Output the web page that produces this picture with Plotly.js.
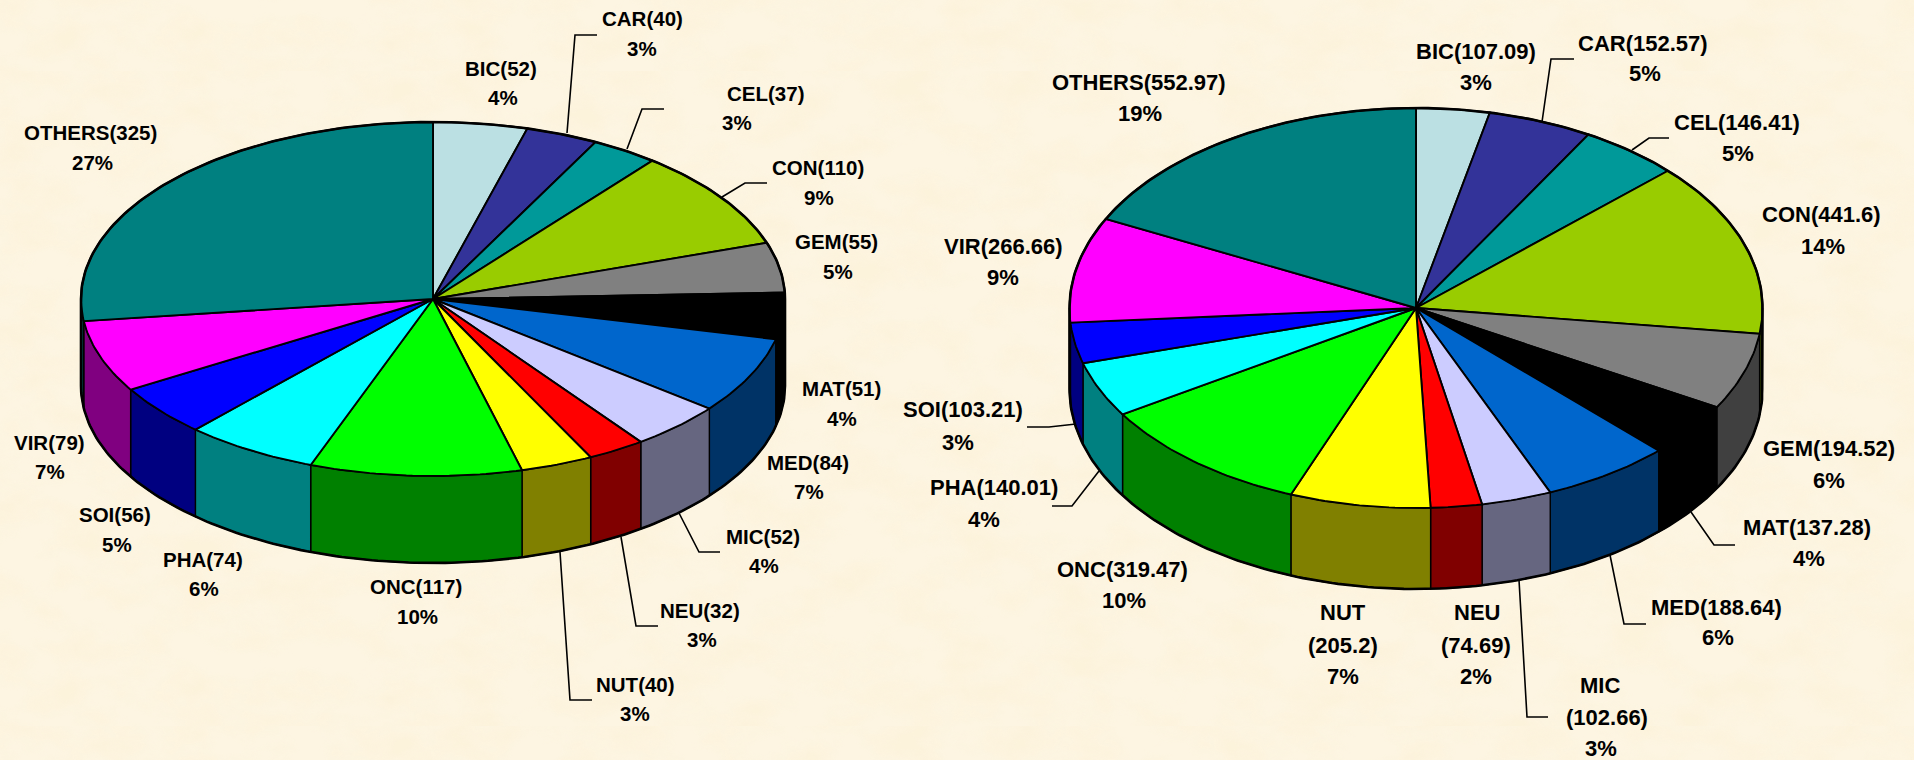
<!DOCTYPE html>
<html>
<head>
<meta charset="utf-8">
<title>Pie charts</title>
<script src="https://cdn.plot.ly/plotly-3.0.1.min.js"></script>
<style>html,body{margin:0;padding:0;overflow:hidden;background:#fcf3de}#plot{width:1914px;height:760px}</style>
</head>
<body>
<div id="plot"></div>
<script>
// ---- data ----
const categories = ['BIC','CAR','CEL','CON','GEM','MAT','MED','MIC','NEU','NUT','ONC','PHA','SOI','VIR','OTHERS'];
const valuesLeft  = [52,40,37,110,55,51,84,52,32,40,117,74,56,79,325];
const valuesRight = [107.09,152.57,146.41,441.6,194.52,137.28,188.64,102.66,74.69,205.2,319.47,140.01,103.21,266.66,552.97];
const percentLeft  = ['4%','3%','3%','9%','5%','4%','7%','4%','3%','3%','10%','6%','5%','7%','27%'];
const percentRight = ['3%','5%','5%','14%','6%','4%','6%','3%','2%','7%','10%','4%','3%','9%','19%'];
const topColors  = ['#BBE0E3','#333399','#009999','#99CC00','#808080','#000000','#0066CC','#CCCCFF','#FF0000','#FFFF00','#00FF00','#00FFFF','#0000FF','#FF00FF','#008080'];
const wallColors = ['#5E7072','#1A1A4D','#004D4D','#4D6600','#404040','#000000','#003366','#666680','#800000','#808000','#008000','#008080','#000080','#800080','#004040'];

// ---- layout of the two pies, in pixels of the page ----
const pieLeft  = {cx:433,  cy:299, rx:352,   ry:177, depth:87};
const pieRight = {cx:1416, cy:308, rx:346.5, ry:200, depth:81};

// label line centres [x, y] per line, category order
const labelPosLeft = [
 [[501,68],[503,97]],[[642,18],[642,48]],[[765,93],[737,122]],[[818,167],[819,197]],[[836,241],[838,271]],
 [[841,388],[842,418]],[[808,462],[809,491]],[[763,536],[764,565]],[[700,610],[702,639]],[[635,684],[635,713]],
 [[416,586],[417,616]],[[203,559],[204,588]],[[115,514],[117,544]],[[49,442],[50,471]],[[90,132],[92,162]]];
const labelPosRight = [
 [[1476,51],[1476,82]],[[1643,43],[1645,73]],[[1737,122],[1738,153]],[[1821,214],[1823,246]],[[1829,448],[1829,480]],
 [[1807,527],[1809,558]],[[1716,607],[1718,637]],[[1600,685],[1607,717],[1601,748]],[[1477,612],[1476,645],[1476,676]],[[1343,612],[1343,645],[1343,676]],
 [[1122,569],[1124,600]],[[994,487],[984,519]],[[963,409],[958,442]],[[1003,246],[1003,277]],[[1139,82],[1140,113]]];

// leader lines
const leaderLines = [
 [[567,133],[575,35],[597,35]],[[627,149],[642,109],[664,109]],[[722,197],[745,183],[767,183]],
 [[679,513],[699,552],[720,552]],[[621,537],[636,626],[658,626]],[[560,552],[570,700],[592,700]],
 [[1542,122],[1551,59],[1574,59]],[[1632,150],[1649,138],[1669,138]],[[1691,512],[1714,545],[1735,545]],
 [[1610,555],[1624,624],[1646,624]],[[1519,580],[1527,717],[1548,717]],[[1099,471],[1072,506],[1052,506]],
 [[1076,424],[1049,427],[1027,427]]];

// ---- geometry helpers: angle in degrees clockwise from 12 o'clock ----
const rad = d => d * Math.PI / 180;
function pt(p, a, drop) { return [p.cx + p.rx * Math.sin(rad(a)), p.cy - p.ry * Math.cos(rad(a)) + (drop || 0)]; }
function arc(p, a0, a1, drop) {
  const n = Math.max(2, Math.ceil(Math.abs(a1 - a0))), out = [];
  for (let i = 0; i <= n; i++) out.push(pt(p, a0 + (a1 - a0) * i / n, drop));
  return out;
}
const xs = pts => pts.map(q => q[0]);
const ys = pts => pts.map(q => q[1]);

function pieTraces(p, values) {
  const total = values.reduce((s, v) => s + v, 0), walls = [], tops = [];
  let a = 0;
  values.forEach((v, i) => {
    const b = a + v / total * 360;
    const name = categories[i] + ' (' + v + ')';
    const w0 = Math.max(a, 90), w1 = Math.min(b, 270);
    if (w1 > w0) {
      const poly = arc(p, w0, w1, 0).concat(arc(p, w1, w0, p.depth));
      poly.push(poly[0]);
      walls.push({type:'scatter', mode:'lines', x:xs(poly), y:ys(poly), fill:'toself', fillcolor:wallColors[i],
        line:{color:'#000', width:1.4}, name:name, hoverinfo:'name', showlegend:false});
    }
    const poly = [[p.cx, p.cy]].concat(arc(p, a, b, 0));
    poly.push([p.cx, p.cy]);
    tops.push({type:'scatter', mode:'lines', x:xs(poly), y:ys(poly), fill:'toself', fillcolor:topColors[i],
      line:{color:'#000', width:1.9}, name:name, hoverinfo:'name', showlegend:false});
    a = b;
  });
  const outline = arc(p, -90, 90, 0).concat(arc(p, 90, 270, p.depth));
  outline.push(outline[0]);
  const rim = {type:'scatter', mode:'lines', x:xs(outline), y:ys(outline), line:{color:'#000', width:2.6},
    hoverinfo:'skip', showlegend:false};
  return walls.concat(tops, [rim]);
}

function labelLines(values, pct, multi) {
  return categories.map((c, i) => multi.includes(c)
    ? [c, '(' + values[i] + ')', pct[i]]
    : [c + '(' + values[i] + ')', pct[i]]);
}
function annots(lines, pos, size) {
  const out = [];
  lines.forEach((ls, i) => ls.forEach((t, j) => out.push({
    text:t, x:pos[i][j][0], y:pos[i][j][1], xref:'x', yref:'y', showarrow:false,
    xanchor:'center', yanchor:'middle', borderpad:0,
    font:{family:'"Liberation Sans", Arial, sans-serif', size:size, color:'#000', weight:700}
  })));
  return out;
}

const leaderTraces = leaderLines.map(l => ({type:'scatter', mode:'lines', x:xs(l), y:ys(l),
  line:{color:'#000', width:1.6}, hoverinfo:'skip', showlegend:false}));

const data = pieTraces(pieLeft, valuesLeft).concat(pieTraces(pieRight, valuesRight), leaderTraces);
const annotations = annots(labelLines(valuesLeft, percentLeft, []), labelPosLeft, 20.5)
  .concat(annots(labelLines(valuesRight, percentRight, ['MIC','NEU','NUT']), labelPosRight, 22));

// mottled parchment background
const svg = '<svg xmlns="http://www.w3.org/2000/svg" width="1914" height="655">' +
 '<filter id="f" x="0" y="0" width="100%" height="100%"><feTurbulence type="fractalNoise" baseFrequency="0.018 0.028" numOctaves="4" seed="7"/>' +
 '<feColorMatrix values="0 0 0 0 0.97 0 0 0 0 0.88 0 0 0 0 0.68 2.4 0 0 0 -0.9"/></filter>' +
 '<rect width="1914" height="655" fill="#fdf5e2"/><rect width="1914" height="655" filter="url(#f)" opacity="0.6"/></svg>';
document.body.style.background = 'url("data:image/svg+xml,' + encodeURIComponent(svg) + '") 0 71px repeat #fcf3de';

Plotly.newPlot('plot', data, {
  width:1914, height:760, margin:{l:0, r:0, t:0, b:0},
  paper_bgcolor:'rgba(0,0,0,0)', plot_bgcolor:'rgba(0,0,0,0)',
  xaxis:{range:[0,1914], visible:false, fixedrange:true},
  yaxis:{range:[760,0], visible:false, fixedrange:true},
  showlegend:false, annotations:annotations, hovermode:'closest'
}, {displayModeBar:false});
</script>
</body>
</html>
